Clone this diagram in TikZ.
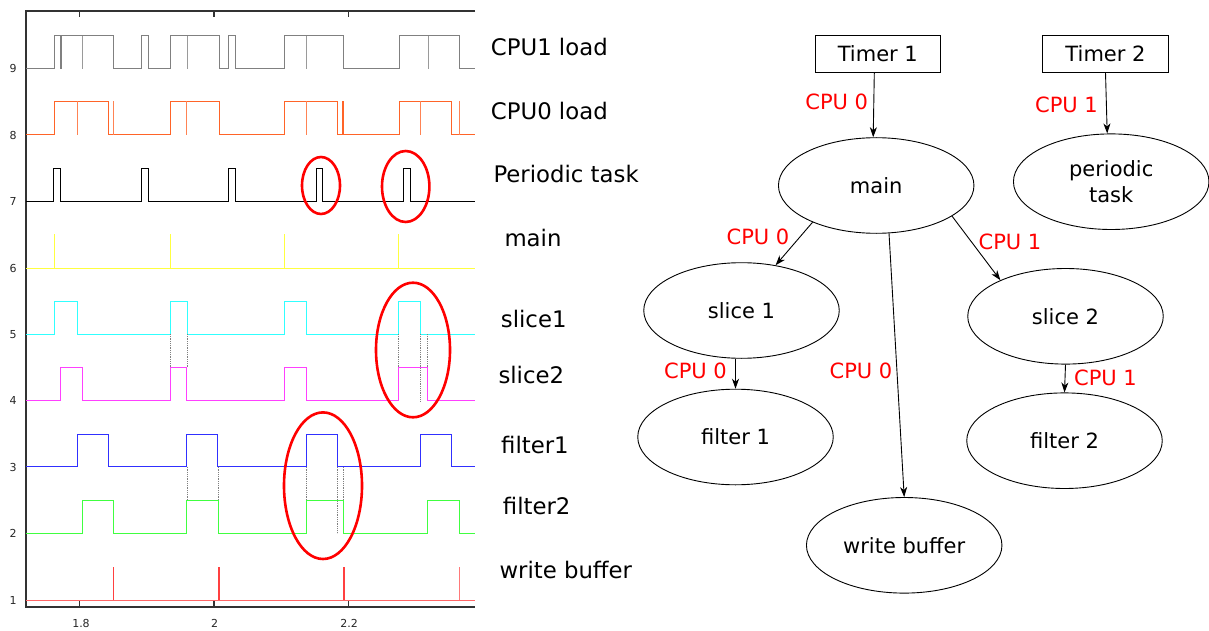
\documentclass[tikz,border=0pt]{standalone}
\usepackage{fontspec}
\setmainfont{DejaVu Sans}
\usetikzlibrary{shapes.geometric,arrows.meta}
\definecolor{cgray}{RGB}{128,128,128}
\definecolor{corg}{RGB}{255,100,40}
\definecolor{cyel}{RGB}{255,255,64}
\definecolor{ccy}{RGB}{48,255,255}
\definecolor{cmag}{RGB}{255,64,255}
\definecolor{cblu}{RGB}{48,48,255}
\definecolor{cgrn}{RGB}{64,255,64}
\definecolor{cred}{RGB}{255,64,64}
\definecolor{axc}{RGB}{50,50,50}
\newcommand\sigline[4]{\draw[sig,#1] (26,#2) \foreach \a/\b in {#4} { -- (\a,#2) -- (\a,#2-#3) -- (\b,#2-#3) -- (\b,#2) } -- (475,#2);}
\tikzset{
  sig/.style={line width=1pt, line join=miter},
  dots/.style={gray, densely dotted, line width=0.8pt},
  mark ell/.style={red, line width=2.6pt},
  axis line/.style={axc, line width=1.3pt},
  ticklab/.style={font=\fontsize{11}{13}\selectfont, text=black!85, inner sep=0pt},
  llab/.style={anchor=base west, font=\fontsize{22.8}{27}\selectfont, inner sep=0pt},
  gnode/.style={ellipse, draw, line width=0.9pt, minimum width=195.5pt, minimum height=95.6pt, inner sep=0pt, font=\fontsize{21}{25.6}\selectfont, align=center},
  tbox/.style={rectangle, draw, line width=0.9pt, minimum width=125.7pt, minimum height=37.3pt, inner sep=0pt, font=\fontsize{21}{25.6}\selectfont},
  arr/.style={-{Stealth[length=10pt,width=7pt,inset=3pt]}, line width=0.9pt},
  elab/.style={text=red, font=\fontsize{21}{25}\selectfont, inner sep=0pt}
}
\begin{document}
\begin{tikzpicture}[x=1pt,y=-1pt]
\useasboundingbox (0,0) rectangle (1209,631);
% ---------- plot ----------
\draw[axis line] (475,11) -- (26,11) -- (26,607) -- (475,607);
\foreach \x in {79,348} {\draw[axc, line width=1pt] (\x,607) -- (\x,601); \draw[axc, line width=1pt] (\x,11) -- (\x,17);}
\draw[axc, line width=1.6pt] (214,607) -- (214,601);
\draw[axc, line width=1.6pt] (214,11) -- (214,17);
\node[ticklab] (tx1) at (81,623) {1.8};
\node[ticklab] (tx2) at (214.5,623) {2};
\node[ticklab] (tx3) at (349,623) {2.2};
\foreach \v in {1,...,9} {\node[ticklab] (ty\v) at (13,{600-(\v-1)*66.4}) {\v};}
% CPU1 load
\sigline{cgray}{69}{33}{54/60,61.3/113,141.3/148,170/219,228.7/235,284/343.7,399/459.3}
\foreach \x in {82.3,187,306.7,428} {\draw[sig,cgray!80] (\x,69) -- (\x,36);}
% CPU0 load
\sigline{corg}{135}{33.5}{54.3/108.3,170/219,284/337.7,399/451.7}
\foreach \x in {77.7,113.7,186.7,306.7,420.7,459.3} {\draw[sig,corg!80] (\x,135) -- (\x,101.5);}
\draw[line width=2pt,corg] (343,135) -- (343,101.5);
% periodic task
\sigline{black}{201}{32}{53.7/60.3,141/148,228.7/235,316/322.7,403.3/410}
% main
\draw[sig,cyel] (26,268) -- (475,268);
\foreach \x in {54.3,170,284,398.7} {\draw[sig,cyel] (\x,268) -- (\x,234.3);}
% slice1, slice2
\sigline{ccy}{334}{33}{54.3/77.7,170/187,284/306,398.7/420.3}
\sigline{cmag}{400.7}{33.4}{60.3/82.3,170/186.7,284/306,398.7/427.3}
% filter1, filter2
\sigline{cblu}{466.7}{32.4}{77.7/108.3,186.7/217.7,306.3/337.3,420.3/451}
\sigline{cgrn}{533.3}{33}{82.3/113.7,186.7/218.7,306.3/343.3,427.3/459.3}
% write buffer
\draw[sig,cred!80] (26,600) -- (475,600);
\draw[sig,cred] (113.7,600) -- (113.7,567);
\draw[line width=1.8pt,cred] (218.7,600) -- (218.7,567);
\draw[line width=2.3pt,cred] (344,600) -- (344,567);
\draw[sig,cred!70] (459.3,600) -- (459.3,567);
% dotted guides
\foreach \x in {170,187,398.3,427} {\draw[dots] (\x,334) -- (\x,367.3);}
\draw[dots] (420.3,334) -- (420.3,400.7);
\foreach \x in {187,218.3,306,343.3} {\draw[dots] (\x,466.7) -- (\x,500.3);}
\draw[dots] (337.3,466.7) -- (337.3,533.3);
% red marks
\draw[mark ell] (321,185.5) ellipse [x radius=19pt, y radius=28.5pt];
\draw[mark ell] (405.7,186.5) ellipse [x radius=23.7pt, y radius=35.5pt];
\draw[mark ell] (413,350) ellipse [x radius=37pt, y radius=67.3pt];
\draw[mark ell] (323,485.7) ellipse [x radius=39pt, y radius=73.3pt];
% ---------- labels ----------
\node[llab] (l9) at (490.7,56) {CPU1 load};
\node[llab] (l8) at (490.7,120) {CPU0 load};
\node[llab] (l7) at (493.3,182.3) {Periodic task};
\node[llab] (l6) at (504.3,246.7) {main};
\node[llab] (l5) at (500.7,327.3) {slice1};
\node[llab] (l4) at (498.3,383.3) {slice2};
\node[llab] (l3) at (501,453.3) {filter1};
\node[llab] (l2) at (502.7,514.3) {filter2};
\node[llab] (l1) at (499.3,578.3) {write buffer};
% ---------- graph ----------
\node[tbox] (t1) at (877.8,53.7) {Timer 1};
\node[tbox] (t2) at (1105.5,53.7) {Timer 2};
\node[gnode] (main) at (876.2,185.5) {main};
\node[gnode] (pt) at (1111.2,181.7) {periodic\\task};
\node[gnode] (s1) at (741.5,310.5) {slice 1};
\node[gnode] (s2) at (1065.5,316.3) {slice 2};
\node[gnode] (f1) at (735.5,437) {filter 1};
\node[gnode] (f2) at (1064.5,440.7) {filter 2};
\node[gnode] (wb) at (904.2,545.3) {write buffer};
\draw[arr] ([xshift=-3.5pt]t1.south) -- ([xshift=-3pt]main.north);
\draw[arr] (t2.south) -- ([xshift=-4pt]pt.north);
\draw[arr] (main.210) -- (s1.53);
\draw[arr] (main.-22) -- (s2.151);
\draw[arr] (main.-75) -- (wb.north);
\draw[arr] (f1.north |- s1.south) -- (f1.north);
\draw[arr] (s2.south) -- (f2.north);
\node[elab] (e1) at (836.7,102.3) {CPU 0};
\node[elab] (e2) at (1066.5,105) {CPU 1};
\node[elab] (e3) at (758,237) {CPU 0};
\node[elab] (e4) at (1010,241.7) {CPU 1};
\node[elab] (e5) at (695.5,371) {CPU 0};
\node[elab] (e6) at (861,370.7) {CPU 0};
\node[elab] (e7) at (1105.5,378.3) {CPU 1};
\end{tikzpicture}
\end{document}
